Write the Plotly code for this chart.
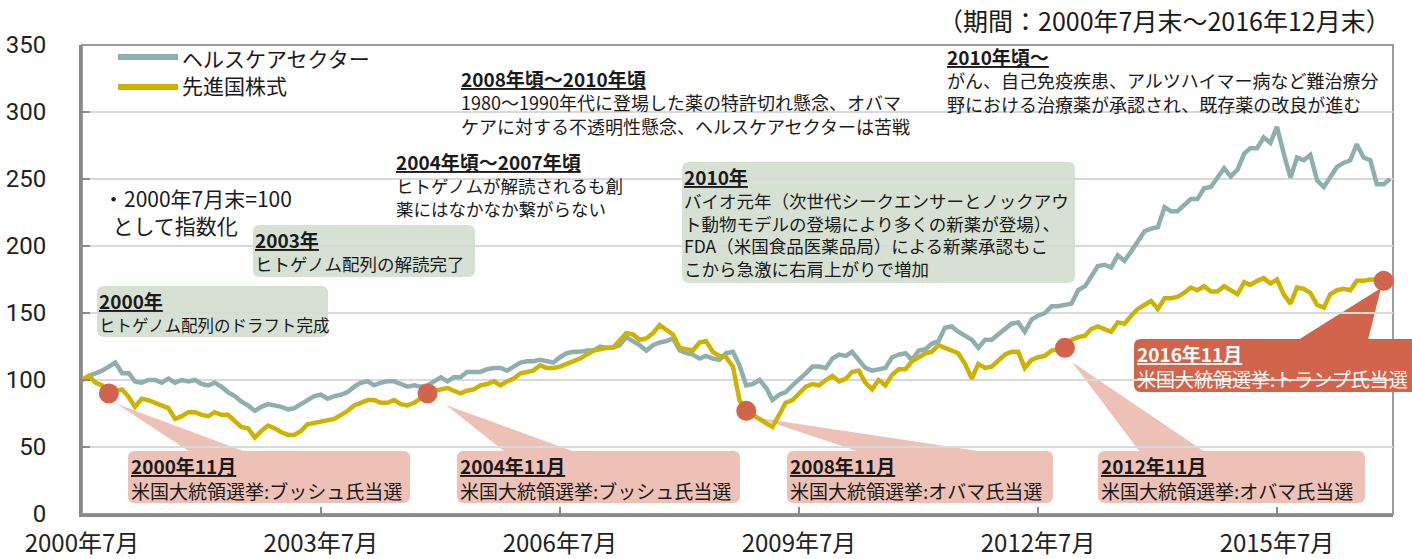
import plotly.graph_objects as go
import pandas as pd

# ---------------- data ----------------
months = pd.date_range("2000-07-01", periods=198, freq="MS")

health_care = [
    100, 103, 105, 107, 110, 113, 105, 105, 99, 98, 100, 100,
    98, 101, 98, 100, 99, 100, 97, 96, 98, 95, 91, 88,
    84, 81, 77, 80, 82, 81, 80, 78, 79, 82, 85, 88,
    89, 86, 88, 89, 91, 95, 98, 99, 96, 98, 99, 99,
    97, 95, 96, 95, 96, 99, 102, 99, 102, 102, 106, 106,
    106, 108, 109, 109, 107, 110, 113, 114, 114, 115, 114, 113,
    117, 120, 121, 121, 122, 122, 125, 124, 124, 126, 132, 129,
    126, 122, 126, 128, 129, 131, 122, 120, 119, 116, 118, 116,
    115, 120, 121, 111, 96, 97, 100, 94, 85, 89, 91, 96,
    100, 105, 110, 110, 109, 116, 119, 118, 121, 115, 109, 107,
    108, 109, 117, 119, 120, 115, 122, 123, 127, 129, 139, 140,
    136, 133, 130, 124, 130, 130, 134, 138, 142, 143, 136, 145,
    148, 150, 155, 155, 156, 157, 167, 170, 177, 185, 186, 184,
    193, 189, 196, 203, 211, 213, 214, 229, 226, 226, 230, 235,
    235, 243, 244, 251, 258, 252, 257, 269, 273, 273, 281, 277,
    289, 269, 251, 266, 264, 268, 249, 244, 251, 259, 262, 264,
    276, 266, 264, 246, 246, 250,
]

developed = [
    100, 103, 98, 96, 90, 92, 93, 87, 80, 86, 85, 83,
    81, 79, 71, 73, 76, 76, 74, 73, 76, 74, 74, 69,
    65, 64, 57, 62, 66, 64, 61, 59, 59, 62, 67, 68,
    69, 70, 71, 74, 77, 81, 83, 85, 85, 83, 83, 85,
    82, 81, 83, 86, 90, 92, 93, 94, 92, 90, 92, 93,
    96, 97, 99, 96, 99, 101, 105, 106, 107, 111, 109, 109,
    110, 112, 114, 116, 119, 122, 123, 124, 124, 129, 135, 134,
    130, 131, 135, 141, 137, 134, 124, 123, 122, 128, 129, 121,
    118, 117, 110, 85, 77, 74, 71, 68, 65, 74, 83, 85,
    90, 95, 97, 96, 100, 103, 99, 101, 106, 107, 98, 93,
    100, 96, 104, 108, 108, 114, 117, 120, 121, 126, 124, 122,
    120, 112, 101, 112, 109, 110, 115, 119, 121, 121, 109, 115,
    117, 118, 122, 123, 124, 130, 132, 133, 138, 140, 138, 136,
    143, 142, 148, 153, 156, 159, 153, 161, 161, 162, 165, 169,
    167, 170, 166, 166, 170, 167, 164, 173, 171, 174, 176, 172,
    175, 164, 157, 169, 168, 165, 156, 154, 164, 167, 168, 167,
    174, 174, 175, 175, 174, 175,
]

series_names = ["ヘルスケアセクター", "先進国株式"]

election_months = ["2000-11-01", "2004-11-01", "2008-11-01", "2012-11-01", "2016-11-01"]
election_titles = ["2000年11月", "2004年11月", "2008年11月", "2012年11月", "2016年11月"]
election_texts = [
    "米国大統領選挙:ブッシュ氏当選",
    "米国大統領選挙:ブッシュ氏当選",
    "米国大統領選挙:オバマ氏当選",
    "米国大統領選挙:オバマ氏当選",
    "米国大統領選挙:トランプ氏当選",
]

tick_dates = ["2000-07-01", "2003-07-01", "2006-07-01", "2009-07-01", "2012-07-01", "2015-07-01"]
tick_labels = ["2000年7月", "2003年7月", "2006年7月", "2009年7月", "2012年7月", "2015年7月"]
y_ticks = [0, 50, 100, 150, 200, 250, 300, 350]

assert len(health_care) == len(months) == len(developed)

# ---------------- styling ----------------
FONT = "Noto Sans CJK JP"
C_HC = "#8EAFAD"
C_DM = "#CDB300"
C_DOT = "#D2644B"
C_PINK = "#EEC1B6"
C_GREEN = "#D6E1D4"
C_TXT = "#1a1a1a"

W, H = 1412, 559
L, R, T, B = 82, 1393, 45, 514


def px(x):
    return (x - L) / (R - L)


def py(y):
    return (B - y) / (B - T)


def rrect(x0, y0, x1, y1, r=7):
    pts = [
        ("M", [(x0 + r, y0)]),
        ("L", [(x1 - r, y0)]),
        ("Q", [(x1, y0), (x1, y0 + r)]),
        ("L", [(x1, y1 - r)]),
        ("Q", [(x1, y1), (x1 - r, y1)]),
        ("L", [(x0 + r, y1)]),
        ("Q", [(x0, y1), (x0, y1 - r)]),
        ("L", [(x0, y0 + r)]),
        ("Q", [(x0, y0), (x0 + r, y0)]),
    ]
    s = ""
    for cmd, ps in pts:
        s += cmd + " ".join(f"{px(a):.5f},{py(b):.5f}" for a, b in ps) + " "
    return s + "Z"


def tri(p1, p2, p3):
    return "M" + " L".join(f"{px(a):.5f},{py(b):.5f}" for a, b in (p1, p2, p3)) + " Z"


shapes = []
annotations = []


def add_box(x0, y0, x1, y1, color):
    shapes.append(dict(type="path", path=rrect(x0, y0, x1, y1), xref="paper", yref="paper",
                       fillcolor=color, line=dict(width=0), layer="between"))


def add_tri(p1, p2, p3, color):
    shapes.append(dict(type="path", path=tri(p1, p2, p3), xref="paper", yref="paper",
                       fillcolor=color, line=dict(width=0), layer="between"))


def block(x, y_top, title, lines, size=18, tsize=19, color=C_TXT, xanchor="left"):
    """One annotation per text block; y_top is the pixel top of the block."""
    parts = []
    if title:
        parts.append(f"<span style='font-size:{tsize}px'><b><u>{title}</u></b></span>")
    parts.extend(lines)
    annotations.append(dict(x=px(x), y=py(y_top), xref="paper", yref="paper",
                            text="<br>".join(parts), showarrow=False,
                            xanchor=xanchor, yanchor="top", align="left",
                            font=dict(family=FONT, size=size, color=color),
                            borderpad=0, borderwidth=0))


# frame (top / right border)
shapes.append(dict(type="rect", xref="paper", yref="paper", x0=0, x1=1, y0=0, y1=1,
                   line=dict(color="#9b9b9b", width=2), layer="below"))

# legend (drawn manually to match long swatches)
for yy, col in [(57, C_HC), (87, C_DM)]:
    shapes.append(dict(type="line", xref="paper", yref="paper", x0=px(118), x1=px(178),
                       y0=py(yy), y1=py(yy), line=dict(color=col, width=6), layer="above"))
block(182, 43, None, series_names, size=21)

# subtitle
annotations.append(dict(x=px(1393), y=py(20), xref="paper", yref="paper",
                        text="（期間：2000年7月末～2016年12月末）", showarrow=False,
                        xanchor="right", yanchor="middle",
                        font=dict(family=FONT, size=25, color=C_TXT)))

# index note
block(103, 183, None, ["・2000年7月末=100", "\u00a0\u00a0として指数化"], size=21)

# green boxes
add_box(97, 286, 328, 337, C_GREEN)
block(99, 287, "2000年", ["<span style='font-size:16.5px'>ヒトゲノム配列のドラフト完成</span>"], size=18)

add_box(253, 225, 475, 277, C_GREEN)
block(255, 226, "2003年", ["<span style='font-size:17.5px'>ヒトゲノム配列の解読完了</span>"], size=18)

add_box(682, 162, 1075, 283, C_GREEN)
block(684, 163, "2010年", [
    "バイオ元年（次世代シークエンサーとノックアウ",
    "ト動物モデルの登場により多くの新薬が登場）、",
    "FDA（米国食品医薬品局）による新薬承認もこ",
    "こから急激に右肩上がりで増加",
], size=17.5)

# free texts
block(396, 148, "2004年頃～2007年頃", ["ヒトゲノムが解読されるも創", "薬にはなかなか繋がらない"], size=17.5)
block(461, 65, "2008年頃～2010年頃", [
    "1980～1990年代に登場した薬の特許切れ懸念、オバマ",
    "ケアに対する不透明性懸念、ヘルスケアセクターは苦戦",
], size=18)
block(947, 43, "2010年頃～", [
    "がん、自己免疫疾患、アルツハイマー病など難治療分",
    "野における治療薬が承認され、既存薬の改良が進む",
], size=18)

# election callouts
pink_boxes = [(128, 410), (457, 740), (787, 1053), (1098, 1365)]
pointers = [
    ((117, 404), (190, 452), (246, 452)),
    ((446, 405), (505, 452), (575, 452)),
    ((758, 418), (860, 452), (985, 452)),
    ((1072, 362), (1140, 452), (1205, 452)),
]
for i, ((x0, x1), ptr) in enumerate(zip(pink_boxes, pointers)):
    add_tri(*ptr, C_PINK)
    add_box(x0, 451, x1, 503, C_PINK)
    block(x0 + 3, 452, election_titles[i], [election_texts[i]], size=19, tsize=19)

add_tri((1381, 288), (1298, 340), (1368, 340), C_DOT)
add_box(1134, 339, 1440, 392, C_DOT)
block(1137, 340, election_titles[4], [election_texts[4]], size=19, tsize=19, color="white")

# ---------------- figure ----------------
fig = go.Figure()
fig.add_trace(go.Scatter(x=months, y=health_care, mode="lines", name=series_names[0],
                         line=dict(color=C_HC, width=4.5), showlegend=False))
fig.add_trace(go.Scatter(x=months, y=developed, mode="lines", name=series_names[1],
                         line=dict(color=C_DM, width=4.5), showlegend=False))

dm_lookup = dict(zip(months.strftime("%Y-%m-%d"), developed))
fig.add_trace(go.Scatter(x=election_months, y=[dm_lookup[d] for d in election_months],
                         mode="markers", marker=dict(size=20, color=C_DOT), showlegend=False,
                         cliponaxis=False))

fig.update_layout(
    width=W, height=H,
    margin=dict(l=L, r=W - R, t=T, b=H - B, pad=0, autoexpand=False),
    paper_bgcolor="white", plot_bgcolor="white",
    font=dict(family=FONT, color=C_TXT),
    shapes=shapes, annotations=annotations,
    showlegend=False,
)
fig.update_xaxes(
    type="date", range=["2000-07-01", "2016-12-14"], automargin=False,
    tickvals=tick_dates, ticktext=tick_labels,
    ticks="inside", ticklen=7, tickwidth=2, tickcolor="#8a8a8a",
    showline=True, linecolor="#8a8a8a", linewidth=3,
    showgrid=False, zeroline=False,
    tickfont=dict(family=FONT, size=24, color="#222"),
    ticklabelstandoff=6,
)
fig.update_yaxes(
    range=[0, 350], tickvals=y_ticks, automargin=False,
    ticks="inside", ticklen=8, tickwidth=2, tickcolor="#8a8a8a",
    showline=True, linecolor="#8a8a8a", linewidth=3,
    showgrid=True, gridcolor="#d9d9d9", gridwidth=2, zeroline=False,
    tickfont=dict(family="Roboto", size=24, color="#222"),
    ticklabelstandoff=28,
)

fig.write_html("out.html")
